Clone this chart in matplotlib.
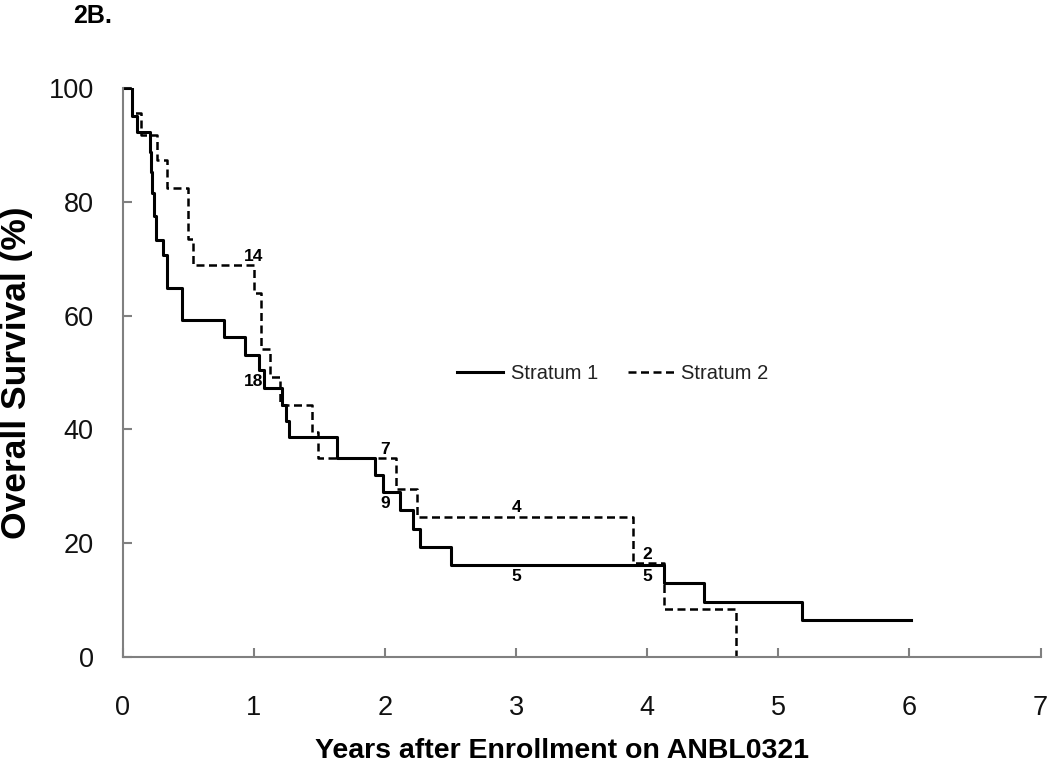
import numpy as np
import matplotlib.pyplot as plt

plt.rcParams['font.family'] = ['Liberation Sans', 'DejaVu Sans']

# Kaplan-Meier steps (years, % surviving)
s1_time = [0, 0.07, 0.11, 0.205, 0.215, 0.225, 0.24, 0.25, 0.31, 0.335, 0.454,
           0.77, 0.935, 1.037, 1.075, 1.214, 1.245, 1.265, 1.63, 1.924, 1.987,
           2.114, 2.215, 2.266, 2.506, 4.13, 4.43, 5.18, 6.01]
s1_surv = [100, 95.0, 92.3, 88.7, 85.2, 81.6, 77.5, 73.3, 70.7, 64.8, 59.3,
           56.3, 53.1, 50.4, 47.2, 44.3, 41.5, 38.6, 35.0, 32.0, 29.1,
           25.8, 22.6, 19.4, 16.2, 13.0, 9.7, 6.5, 6.5]

s2_time = [0, 0.07, 0.137, 0.264, 0.335, 0.496, 0.537, 0.999, 1.057, 1.12,
           1.20, 1.44, 1.49, 2.084, 2.245, 3.889, 4.13, 4.68]
s2_surv = [100, 95.6, 91.8, 87.3, 82.5, 73.4, 68.9, 63.9, 54.2, 49.3,
           44.3, 39.6, 35.0, 29.6, 24.7, 16.5, 8.4, 0]

# numbers at risk
risk_years = [1, 2, 3, 4]
risk_s1 = [18, 9, 5, 5]
risk_s2 = [14, 7, 4, 2]


def surv_at(times, surv, t):
    i = np.searchsorted(times, t, side='right') - 1
    return surv[i]


fig = plt.figure(figsize=(10.5, 7.65), dpi=100)
ax = fig.add_axes([0.117, 0.141, 0.874, 0.744])

ax.step(s1_time, s1_surv, where='post', color='black', lw=2.2, label='Stratum 1')
ax.step(s2_time, s2_surv, where='post', color='black', lw=1.8,
        linestyle=(0, (3.2, 1.8)), label='Stratum 2', clip_on=False)

for t, n1, n2 in zip(risk_years, risk_s1, risk_s2):
    y2 = surv_at(s2_time, s2_surv, t - 0.03)
    ax.annotate(str(n2), (t, y2), xytext=(0, 1), textcoords='offset points',
                ha='center', va='bottom', fontsize=12.5, fontweight='bold')
    y1 = surv_at(s1_time, s1_surv, t + 0.06)
    ax.annotate(str(n1), (t, y1), xytext=(0, -3), textcoords='offset points',
                ha='center', va='top', fontsize=12.5, fontweight='bold')

ax.set_xlim(0, 7)
ax.set_ylim(0, 100)
ax.set_xticks(range(0, 8))
ax.set_yticks(range(0, 101, 20))

for side in ['top', 'right']:
    ax.spines[side].set_visible(False)
for side in ['left', 'bottom']:
    ax.spines[side].set_color('#808080')
    ax.spines[side].set_linewidth(1.5)

ax.tick_params(axis='both', direction='in', length=6.5, width=1.5, color='#808080',
               labelsize=19.5, labelcolor='#111111')
ax.tick_params(axis='x', pad=27)
ax.tick_params(axis='y', pad=21)

ax.set_xlabel('Years after Enrollment on ANBL0321', fontsize=20.5, fontweight='bold')
ax.xaxis.set_label_coords(0.478, -0.142)
ax.set_ylabel('Overall Survival (%)', fontsize=25.5, fontweight='bold')
ax.yaxis.set_label_coords(-0.098, 0.5)

ax.legend(loc='center', bbox_to_anchor=(0.534, 0.499), ncol=2, frameon=False,
          fontsize=14.5, handlelength=2.3, handletextpad=0.35, columnspacing=1.5,
          labelcolor='#222222')

fig.text(73 / 1050, 1 - 4 / 765, '2B.', ha='left', va='top', fontsize=18,
         fontweight='bold')

fig.savefig('out.png', dpi=100)
